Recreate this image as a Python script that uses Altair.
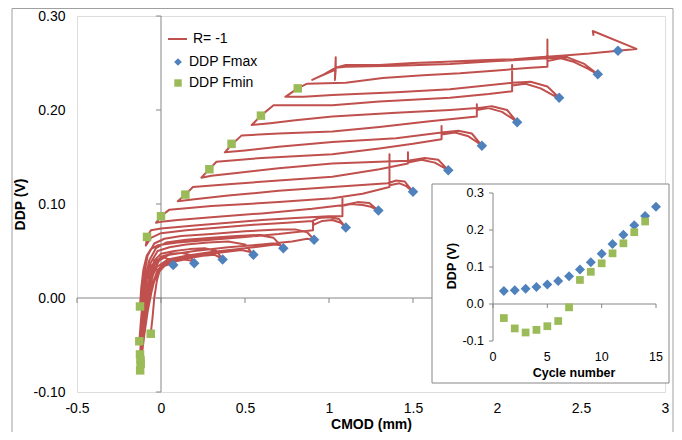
import altair as alt
import pandas as pd

# ---------------- data ----------------
cycles_fmax = list(range(1, 16))
cycles_fmin = list(range(1, 15))
cmod_fmax = [0.073, 0.198, 0.367, 0.550, 0.728, 0.911, 1.100, 1.294, 1.500, 1.710, 1.910, 2.120, 2.370, 2.600, 2.720]
ddp_fmax = [0.035, 0.037, 0.041, 0.046, 0.053, 0.062, 0.075, 0.093, 0.113, 0.136, 0.162, 0.187, 0.213, 0.238, 0.263]
cmod_fmin = [-0.061, -0.122, -0.124, -0.121, -0.125, -0.129, -0.125, -0.083, 0.000, 0.145, 0.288, 0.420, 0.595, 0.814]
ddp_fmin = [-0.038, -0.066, -0.077, -0.070, -0.060, -0.046, -0.009, 0.065, 0.087, 0.110, 0.137, 0.164, 0.194, 0.223]

x_ticks = [-0.5, 0, 0.5, 1, 1.5, 2, 2.5, 3]
y_ticks = [-0.1, 0.0, 0.1, 0.2, 0.3]
inset_x_ticks = [0, 5, 10, 15]
inset_x_labels = ["0", "5", "10", "15"]
inset_y_ticks = [-0.1, 0.0, 0.1, 0.2, 0.3]
inset_y_labels = ["-0.1", "0.0", "0.1", "0.2", "0.3"]

# R = -1 trace, one list of (CMOD, DDP) vertices per cycle
cycle_01 = [(-0.061, -0.038), (-0.05, -0.02), (-0.04, 0.0), (-0.025, 0.018), (-0.01, 0.028), (0.02, 0.034),
            (0.05, 0.036), (0.073, 0.035), (0.05, 0.041), (0.02, 0.043), (-0.01, 0.04), (-0.04, 0.03),
            (-0.065, 0.012), (-0.085, -0.015), (-0.1, -0.04), (-0.115, -0.058), (-0.122, -0.066)]
cycle_02 = [(-0.122, -0.066), (-0.112, -0.05), (-0.095, -0.025), (-0.07, -0.003), (-0.04, 0.018), (-0.01, 0.03),
            (0.03, 0.036), (0.09, 0.039), (0.14, 0.041), (0.175, 0.04), (0.198, 0.037), (0.17, 0.046),
            (0.12, 0.048), (0.06, 0.047), (0.0, 0.044), (-0.04, 0.035), (-0.07, 0.015), (-0.09, -0.01),
            (-0.105, -0.035), (-0.117, -0.06), (-0.124, -0.077)]
cycle_03 = [(-0.124, -0.077), (-0.115, -0.062), (-0.1, -0.04), (-0.08, -0.015), (-0.055, 0.008), (-0.03, 0.025),
            (0.0, 0.034), (0.06, 0.039), (0.15, 0.042), (0.25, 0.045), (0.32, 0.046), (0.35, 0.043),
            (0.367, 0.041), (0.33, 0.05), (0.26, 0.053), (0.17, 0.052), (0.08, 0.05), (0.0, 0.047),
            (-0.04, 0.04), (-0.07, 0.022), (-0.09, 0.0), (-0.105, -0.025), (-0.115, -0.05), (-0.121, -0.070)]
cycle_04 = [(-0.121, -0.070), (-0.11, -0.052), (-0.095, -0.03), (-0.075, -0.005), (-0.05, 0.015), (-0.02, 0.03),
            (0.03, 0.038), (0.12, 0.042), (0.25, 0.046), (0.38, 0.049), (0.48, 0.051), (0.53, 0.049),
            (0.55, 0.046), (0.5, 0.057), (0.4, 0.06), (0.28, 0.059), (0.15, 0.057), (0.05, 0.054),
            (-0.02, 0.05), (-0.06, 0.038), (-0.085, 0.02), (-0.1, -0.005), (-0.112, -0.03), (-0.125, -0.060)]
cycle_05 = [(-0.125, -0.060), (-0.115, -0.04), (-0.1, -0.018), (-0.08, 0.005), (-0.055, 0.022), (-0.025, 0.033),
            (0.04, 0.041), (0.15, 0.045), (0.3, 0.049), (0.45, 0.052), (0.6, 0.055), (0.68, 0.057),
            (0.71, 0.056), (0.728, 0.053), (0.67, 0.064), (0.58, 0.067), (0.45, 0.066), (0.3, 0.064),
            (0.15, 0.062), (0.03, 0.059), (-0.03, 0.053), (-0.07, 0.04), (-0.095, 0.02), (-0.11, -0.005),
            (-0.12, -0.025), (-0.129, -0.046)]
cycle_06 = [(-0.129, -0.046), (-0.12, -0.025), (-0.105, 0.0), (-0.085, 0.02), (-0.06, 0.033), (-0.03, 0.04),
            (0.05, 0.046), (0.2, 0.05), (0.4, 0.054), (0.6, 0.057), (0.78, 0.06), (0.87, 0.063),
            (0.911, 0.062), (0.87, 0.07), (0.8, 0.073), (0.7, 0.073), (0.5, 0.071), (0.3, 0.068),
            (0.12, 0.066), (0.02, 0.063), (-0.04, 0.058), (-0.08, 0.045), (-0.1, 0.025), (-0.115, 0.005),
            (-0.125, -0.009)]
cycle_07 = [(-0.125, -0.009), (-0.118, 0.01), (-0.105, 0.03), (-0.085, 0.045), (-0.06, 0.052), (-0.02, 0.056),
            (0.1, 0.059), (0.3, 0.062), (0.5, 0.065), (0.7, 0.068), (0.85, 0.071), (0.905, 0.072),
            (0.905, 0.081), (0.91, 0.078), (0.96, 0.082), (1.02, 0.083), (1.07, 0.08), (1.10, 0.075),
            (1.06, 0.084), (1.0, 0.086), (0.94, 0.085), (0.9, 0.082), (0.75, 0.08), (0.55, 0.078),
            (0.35, 0.075), (0.15, 0.072), (0.0, 0.069), (-0.06, 0.064), (-0.09, 0.056), (-0.083, 0.065)]
cycle_08 = [(-0.083, 0.065), (-0.06, 0.072), (0.0, 0.074), (0.2, 0.077), (0.4, 0.080), (0.6, 0.083),
            (0.8, 0.085), (1.0, 0.087), (1.08, 0.087), (1.08, 0.106), (1.08, 0.098), (1.13, 0.100),
            (1.2, 0.099), (1.25, 0.097), (1.294, 0.093), (1.24, 0.101), (1.17, 0.102), (1.09, 0.099),
            (0.9, 0.095), (0.6, 0.090), (0.3, 0.086), (0.1, 0.083), (0.0, 0.081), (-0.03, 0.080), (0.0, 0.087)]
cycle_09 = [(0.0, 0.087), (0.05, 0.094), (0.3, 0.098), (0.7, 0.102), (1.02, 0.106), (1.2, 0.111),
            (1.36, 0.118), (1.36, 0.153), (1.36, 0.120), (1.42, 0.122), (1.46, 0.119), (1.50, 0.113),
            (1.45, 0.124), (1.40, 0.125), (1.35, 0.122), (1.02, 0.118), (0.7, 0.114), (0.4, 0.109),
            (0.2, 0.105), (0.1, 0.103), (0.145, 0.110)]
cycle_10 = [(0.145, 0.110), (0.19, 0.118), (0.4, 0.121), (0.7, 0.125), (1.02, 0.129), (1.3, 0.137),
            (1.47, 0.143), (1.47, 0.155), (1.47, 0.144), (1.55, 0.147), (1.63, 0.144), (1.68, 0.139),
            (1.71, 0.136), (1.65, 0.147), (1.57, 0.149), (1.47, 0.146), (1.3, 0.145), (1.02, 0.143),
            (0.7, 0.138), (0.45, 0.133), (0.3, 0.130), (0.24, 0.128), (0.288, 0.137)]
cycle_11 = [(0.288, 0.137), (0.33, 0.145), (0.6, 0.149), (1.02, 0.153), (1.3, 0.159), (1.5, 0.164),
            (1.67, 0.169), (1.67, 0.183), (1.67, 0.174), (1.75, 0.176), (1.83, 0.172), (1.88, 0.166),
            (1.91, 0.162), (1.85, 0.175), (1.77, 0.178), (1.67, 0.176), (1.4, 0.170), (1.02, 0.166),
            (0.7, 0.161), (0.5, 0.157), (0.38, 0.155), (0.42, 0.163)]
cycle_12 = [(0.42, 0.163), (0.48, 0.173), (0.7, 0.175), (1.02, 0.177), (1.3, 0.182), (1.6, 0.188),
            (1.88, 0.193), (1.88, 0.206), (1.88, 0.200), (1.95, 0.202), (2.03, 0.198), (2.09, 0.191),
            (2.12, 0.187), (2.06, 0.200), (1.97, 0.204), (1.88, 0.202), (1.72, 0.200), (1.4, 0.197),
            (1.02, 0.193), (0.8, 0.189), (0.65, 0.186), (0.54, 0.184), (0.595, 0.194)]
cycle_13 = [(0.595, 0.194), (0.67, 0.205), (1.02, 0.205), (1.3, 0.209), (1.72, 0.213), (1.95, 0.217),
            (2.09, 0.220), (2.09, 0.248), (2.09, 0.226), (2.17, 0.228), (2.26, 0.223), (2.33, 0.216),
            (2.37, 0.213), (2.3, 0.225), (2.2, 0.230), (2.09, 0.229), (1.72, 0.222), (1.4, 0.219),
            (1.02, 0.216), (0.85, 0.214), (0.74, 0.214), (0.814, 0.223)]
cycle_14 = [(0.814, 0.223), (0.87, 0.228), (1.1, 0.229), (1.32, 0.234), (1.56, 0.237), (1.78, 0.239),
            (2.0, 0.242), (2.2, 0.245), (2.30, 0.246), (2.30, 0.275), (2.30, 0.252), (2.38, 0.255),
            (2.46, 0.251), (2.54, 0.244), (2.60, 0.238), (2.52, 0.249), (2.42, 0.256), (2.30, 0.255),
            (2.0, 0.252), (1.72, 0.249), (1.4, 0.247), (1.1, 0.246), (1.04, 0.245), (1.04, 0.256),
            (1.035, 0.232), (1.04, 0.243), (0.95, 0.236), (0.9, 0.232)]
cycle_15 = [(0.9, 0.232), (0.97, 0.238), (1.04, 0.245), (1.1, 0.248), (1.3, 0.248), (1.5, 0.250),
            (1.66, 0.251), (1.9, 0.253), (2.1, 0.254), (2.25, 0.256), (2.4, 0.258), (2.55, 0.260),
            (2.72, 0.263), (2.83, 0.265), (2.57, 0.284), (2.575, 0.279)]

all_cycles = [cycle_01, cycle_02, cycle_03, cycle_04, cycle_05, cycle_06, cycle_07, cycle_08,
              cycle_09, cycle_10, cycle_11, cycle_12, cycle_13, cycle_14, cycle_15]

# ---------------- tables ----------------
rows = [pt for cyc in all_cycles for pt in cyc]
df_path = pd.DataFrame(rows, columns=["cmod", "ddp"])
df_path["idx"] = range(len(df_path))

df_fmax = pd.DataFrame({"cmod": cmod_fmax, "ddp": ddp_fmax, "cycle": cycles_fmax})
df_fmin = pd.DataFrame({"cmod": cmod_fmin, "ddp": ddp_fmin, "cycle": cycles_fmin})
one = pd.DataFrame({"k": [0]})

FONT = "Liberation Sans"
RED = "#C0504D"
BLUE = "#4F81BD"
GREEN = "#9BBB59"
GRAY = "#868686"

W, H = 588, 376

# ---------------- main chart ----------------
xs = alt.Scale(domain=[-0.5, 3], nice=False, zero=False)
ys = alt.Scale(domain=[-0.1, 0.3], nice=False, zero=False)

x_axis = alt.Axis(values=x_ticks, domain=False, ticks=False, grid=False, labelFlush=False,
                  labelOverlap=False, labelPadding=9, labelFont=FONT, labelFontSize=14,
                  labelColor="black",
                  labelExpr="datum.value < 0 ? '-' + toString(abs(datum.value)) : toString(datum.value)",
                  title="CMOD (mm)", titleFont=FONT, titleFontSize=14, titleFontWeight="bold",
                  titleColor="black", titleX=W / 2, titleY=32, titleBaseline="middle", titleAlign="center")
y_axis = alt.Axis(values=y_ticks, domain=False, ticks=False, grid=False, labelFlush=False,
                  labelOverlap=False, labelPadding=12, labelFont=FONT, labelFontSize=14,
                  labelColor="black",
                  labelExpr="(datum.value < 0 ? '-' : '') + format(abs(datum.value), '.2f')",
                  title="DDP (V)", titleFont=FONT, titleFontSize=14, titleFontWeight="bold",
                  titleColor="black", titleX=-57, titleY=H / 2, titleAngle=270,
                  titleBaseline="middle", titleAlign="center")


def xq(field):
    return alt.X(field, type="quantitative", scale=xs, axis=x_axis)


def yq(field):
    return alt.Y(field, type="quantitative", scale=ys, axis=y_axis)


frame = alt.Chart(one).mark_rect(fillOpacity=0, stroke="#a0a0a0", strokeWidth=1).encode(
    x=alt.value(-65), x2=alt.value(596), y=alt.value(-7.5), y2=alt.value(430))

df_hline = pd.DataFrame({"x0": [-0.5], "x1": [3.0], "y0": [0.0]})
df_vline = pd.DataFrame({"x0": [0.0], "y0": [-0.1], "y1": [0.3]})
rule_h = alt.Chart(df_hline).mark_rule(color=GRAY, strokeWidth=1).encode(
    x=xq("x0"), x2="x1:Q", y=yq("y0"))
rule_v = alt.Chart(df_vline).mark_rule(color=GRAY, strokeWidth=1).encode(
    x=xq("x0"), y=yq("y0"), y2="y1:Q")
df_xt = pd.DataFrame({"v": x_ticks, "z": [0.0] * len(x_ticks)})
df_yt = pd.DataFrame({"v": y_ticks, "z": [0.0] * len(y_ticks)})
ticks_x = alt.Chart(df_xt).mark_rule(color=GRAY, strokeWidth=1, y2Offset=5).encode(
    x=xq("v"), y=yq("z"), y2="z:Q")
ticks_y = alt.Chart(df_yt).mark_rule(color=GRAY, strokeWidth=1, x2Offset=-5).encode(
    x=xq("z"), x2="z:Q", y=yq("v"))

trace = alt.Chart(df_path).mark_line(color=RED, strokeWidth=2, strokeJoin="round").encode(
    x=xq("cmod"), y=yq("ddp"), order=alt.Order("idx:Q"))

pts_max = alt.Chart(df_fmax).mark_point(shape="diamond", filled=True, size=110, color=BLUE,
                                        opacity=1, strokeWidth=0).encode(x=xq("cmod"), y=yq("ddp"))
pts_min = alt.Chart(df_fmin).mark_point(shape="square", filled=True, size=72, color=GREEN,
                                        opacity=1, strokeWidth=0).encode(x=xq("cmod"), y=yq("ddp"))

# legend
leg_line = alt.Chart(one).mark_rule(color=RED, strokeWidth=2).encode(
    x=alt.value(91), x2=alt.value(110), y=alt.value(23))
leg_dia = alt.Chart(one).mark_point(shape="diamond", filled=True, size=60, color=BLUE, opacity=1,
                                    strokeWidth=0).encode(x=alt.value(101), y=alt.value(46))
leg_sq = alt.Chart(one).mark_point(shape="square", filled=True, size=55, color=GREEN, opacity=1,
                                   strokeWidth=0).encode(x=alt.value(101), y=alt.value(67))
leg_t1 = alt.Chart(one).mark_text(text="R= -1", align="left", baseline="middle", font=FONT,
                                  fontSize=14, color="black").encode(x=alt.value(116), y=alt.value(23))
leg_t2 = alt.Chart(one).mark_text(text="DDP Fmax", align="left", baseline="middle", font=FONT,
                                  fontSize=14, color="black").encode(x=alt.value(112), y=alt.value(46))
leg_t3 = alt.Chart(one).mark_text(text="DDP Fmin", align="left", baseline="middle", font=FONT,
                                  fontSize=14, color="black").encode(x=alt.value(112), y=alt.value(67))

main = alt.layer(frame, rule_h, rule_v, ticks_x, ticks_y, trace, pts_max, pts_min,
                 leg_line, leg_dia, leg_sq, leg_t1, leg_t2, leg_t3)

# ---------------- inset chart ----------------
xin = alt.Scale(domain=[0, 15], range=[416, 579], nice=False, zero=False)
yin = alt.Scale(domain=[-0.1, 0.3], range=[325, 177], nice=False, zero=False)

in_frame = alt.Chart(one).mark_rect(fill="white", stroke=GRAY, strokeWidth=1).encode(
    x=alt.value(355), x2=alt.value(592), y=alt.value(168), y2=alt.value(367))
df_in_h = pd.DataFrame({"x0": [0.0], "x1": [15.0], "y0": [0.0]})
df_in_v = pd.DataFrame({"x0": [0.0], "y0": [-0.1], "y1": [0.3]})
in_h = alt.Chart(df_in_h).mark_rule(color=GRAY, strokeWidth=1).encode(
    x=alt.X("x0:Q", scale=xin, axis=None), x2="x1:Q", y=alt.Y("y0:Q", scale=yin, axis=None))
in_v = alt.Chart(df_in_v).mark_rule(color=GRAY, strokeWidth=1).encode(
    x=alt.X("x0:Q", scale=xin, axis=None), y=alt.Y("y0:Q", scale=yin, axis=None), y2="y1:Q")
df_in_xt = pd.DataFrame({"v": inset_x_ticks, "z": [0.0] * 4, "b": [-0.1] * 4, "lab": inset_x_labels})
df_in_yt = pd.DataFrame({"v": inset_y_ticks, "z": [0.0] * 5, "lab": inset_y_labels})
in_tx = alt.Chart(df_in_xt).mark_rule(color=GRAY, strokeWidth=1, y2Offset=4).encode(
    x=alt.X("v:Q", scale=xin, axis=None), y=alt.Y("z:Q", scale=yin, axis=None), y2="z:Q")
in_ty = alt.Chart(df_in_yt).mark_rule(color=GRAY, strokeWidth=1, x2Offset=-4).encode(
    x=alt.X("z:Q", scale=xin, axis=None), x2="z:Q", y=alt.Y("v:Q", scale=yin, axis=None))
in_xl = alt.Chart(df_in_xt).mark_text(align="center", baseline="middle", dy=16, font=FONT,
                                      fontSize=12.5, color="black").encode(
    x=alt.X("v:Q", scale=xin, axis=None), y=alt.Y("b:Q", scale=yin, axis=None), text="lab:N")
in_yl = alt.Chart(df_in_yt).mark_text(align="right", baseline="middle", dx=-9, font=FONT,
                                      fontSize=12.5, color="black").encode(
    x=alt.X("z:Q", scale=xin, axis=None), y=alt.Y("v:Q", scale=yin, axis=None), text="lab:N")
in_xtitle = alt.Chart(one).mark_text(text="Cycle number", align="center", baseline="middle",
                                     font=FONT, fontSize=12.5, fontWeight="bold",
                                     color="black").encode(x=alt.value(497), y=alt.value(357))
in_ytitle = alt.Chart(one).mark_text(text="DDP (V)", align="center", baseline="middle", angle=270,
                                     font=FONT, fontSize=12.5, fontWeight="bold",
                                     color="black").encode(x=alt.value(375), y=alt.value(250))
in_max = alt.Chart(df_fmax).mark_point(shape="diamond", filled=True, size=100, color=BLUE,
                                       opacity=1, strokeWidth=0).encode(
    x=alt.X("cycle:Q", scale=xin, axis=None), y=alt.Y("ddp:Q", scale=yin, axis=None))
in_min = alt.Chart(df_fmin).mark_point(shape="square", filled=True, size=60, color=GREEN,
                                       opacity=1, strokeWidth=0).encode(
    x=alt.X("cycle:Q", scale=xin, axis=None), y=alt.Y("ddp:Q", scale=yin, axis=None))

inset = alt.layer(in_frame, in_h, in_v, in_tx, in_ty, in_xl, in_yl, in_xtitle, in_ytitle, in_max, in_min)

chart = alt.layer(main, inset).resolve_scale(x="independent", y="independent").properties(
    width=W, height=H,
    autosize=alt.AutoSizeParams(type="none"),
    padding={"left": 69, "top": 8, "right": 9, "bottom": 40},
).configure_view(stroke=None).configure(background="white")

chart.save("out.html", embed_options={"renderer": "svg", "actions": False})
